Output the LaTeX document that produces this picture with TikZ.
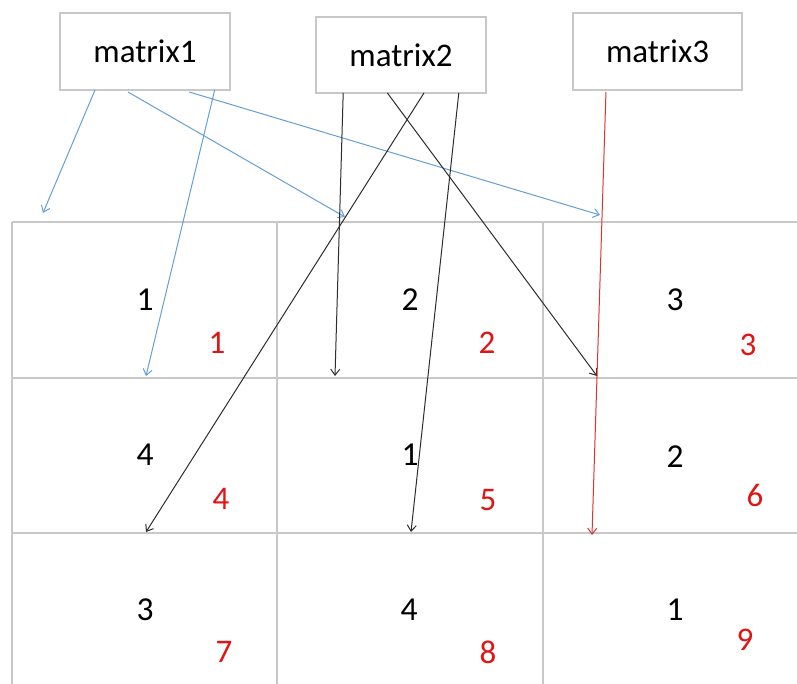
\documentclass[tikz,border=0pt]{standalone}
\usepackage{fontspec}
\setmainfont{Carlito}
\usetikzlibrary{arrows.meta,calc}
\definecolor{gridgray}{RGB}{200,200,200}
\definecolor{linkblue}{RGB}{100,160,212}
\definecolor{linkblack}{RGB}{45,45,45}
\definecolor{linkred}{RGB}{220,50,50}
\definecolor{numred}{RGB}{225,20,20}
\tikzset{
  box/.style={draw=gridgray, line width=1.3pt, fill=white, inner sep=0pt, outer sep=0pt,
    font=\fontsize{33}{36}\selectfont},
  gridline/.style={draw=gridgray, line width=1.2pt},
  val/.style={inner sep=0pt, font=\fontsize{33.5}{36}\selectfont},
  idx/.style={inner sep=0pt, text=numred, font=\fontsize{33}{36}\selectfont},
  link/.style={line width=1pt, -{Straight Barb[length=6pt,width=9pt]}},
  bluelink/.style={link, draw=linkblue},
  blacklink/.style={link, draw=linkblack},
  redlink/.style={link, draw=linkred}
}
\begin{document}
\begin{tikzpicture}[x=1pt,y=-1pt]
\useasboundingbox (0,0) rectangle (797,684);
\fill[white] (0,0) rectangle (797,684);

% grid
\draw[gridline] (12,222) -- (797,222);
\draw[gridline] (12,378) -- (797,378);
\draw[gridline] (12,533) -- (797,533);
\draw[gridline] (12,222) -- (12,684);
\draw[gridline] (277,222) -- (277,684);
\draw[gridline] (543,222) -- (543,684);

% header boxes
\node[box, minimum width=170pt, minimum height=77pt] (m1) at (145,51.5) {matrix1};
\node[box, minimum width=170pt, minimum height=76pt] (m2) at (401,55) {matrix2};
\node[box, minimum width=169pt, minimum height=77pt] (m3) at (657.5,51.5) {matrix3};

% cell values
\node[val] (v11) at (145,300) {1};
\node[val] (v12) at (410,300) {2};
\node[val] (v13) at (675,300) {3};
\node[val] (v21) at (145,455) {4};
\node[val] (v22) at (410,455) {1};
\node[val] (v23) at (675,457) {2};
\node[val] (v31) at (145,610) {3};
\node[val] (v32) at (409,610) {4};
\node[val] (v33) at (675,610) {1};

% cell indices
\node[idx] (i1) at (217,343) {1};
\node[idx] (i2) at (487,343) {2};
\node[idx] (i3) at (748,345) {3};
\node[idx] (i4) at (221,499) {4};
\node[idx] (i5) at (488,500) {5};
\node[idx] (i6) at (755,495) {6};
\node[idx] (i7) at (224,652) {7};
\node[idx] (i8) at (488,652) {8};
\node[idx] (i9) at (745,640) {9};

% arrow targets
\coordinate (b1) at (43,213);
\coordinate (b2) at (345,217);
\coordinate (b3) at (600,215);
\coordinate (b4) at (146,376);
\coordinate (k1) at (335,376);
\coordinate (k2) at (146,532);
\coordinate (k3) at (411,532);
\coordinate (k4) at (597,376);
\coordinate (r1) at (592,535);

% blue links from matrix1
\draw[bluelink] ($(m1.south west)!0.206!(m1.south east)$) -- (b1);
\draw[bluelink] ($(m1.south west)!0.40!(m1.south east)+(0,2)$) -- (b2);
\draw[bluelink] ($(m1.south west)!0.76!(m1.south east)+(0,2)$) -- (b3);
\draw[bluelink] ($(m1.south west)!0.91!(m1.south east)$) -- (b4);

% black links from matrix2
\draw[blacklink] ($(m2.south west)!0.16!(m2.south east)$) -- (k1);
\draw[blacklink] ($(m2.south west)!0.635!(m2.south east)$) -- (k2);
\draw[blacklink] ($(m2.south west)!0.84!(m2.south east)$) -- (k3);
\draw[blacklink] ($(m2.south west)!0.42!(m2.south east)$) -- (k4);

% red link from matrix3
\draw[redlink] ($(m3.south west)!0.195!(m3.south east)+(0,2)$) -- (r1);
\end{tikzpicture}
\end{document}
